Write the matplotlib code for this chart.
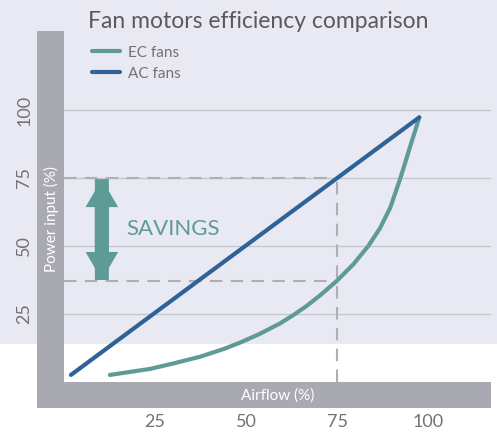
import matplotlib
matplotlib.use("Agg")
import matplotlib.pyplot as plt
from matplotlib.patches import Rectangle

plt.rcParams['font.family'] = ['Lato', 'DejaVu Sans']

# data
ec_x = [12.6, 23.6, 30, 37.4, 44, 48.4, 53.8, 59.3, 63.0, 66.7, 70.3, 74.9, 79.5, 83.6,
        86.8, 89.6, 92.3, 93.2, 95.5, 96.9, 97.6]
ec_y = [2.6, 4.8, 6.8, 9.3, 12.2, 14.5, 17.7, 21.5, 24.6, 28.0, 31.8, 37.1, 43.3, 50,
        56.5, 64, 74.5, 78.3, 88.3, 94.2, 97.3]
ac_x = [1.9, 97.6]
ac_y = [2.6, 97.3]
ticks = [25, 50, 75, 100]
ref_flow = 75
ac_power = 75
ec_power = 37

EC_COL = '#5f9b96'
AC_COL = '#2f6398'
BAR_COL = '#a9a9b2'
BG_COL = '#e9e9f3'
TXT_COL = '#727272'

W, H = 497, 432
fig = plt.figure(figsize=(W / 100, H / 100), dpi=100)
fig.patch.set_facecolor('white')

def px(x0, y0, x1, y1):
    # pixel box (top-left origin) -> figure fraction rect
    return (x0 / W, 1 - y1 / H), (x1 - x0) / W, (y1 - y0) / H

# lavender band and grey L-shaped axis bars
for box, col, z in [((0, 0, W, 344), BG_COL, 0),
                    ((37.3, 382, 491, 408.3), BAR_COL, 1),
                    ((37.3, 30.7, 64, 408.3), BAR_COL, 1)]:
    xy, w, h = px(*box)
    fig.add_artist(Rectangle(xy, w, h, transform=fig.transFigure, facecolor=col,
                             edgecolor='none', zorder=z))

ax = fig.add_axes([64 / W, 1 - 382 / H, 427 / W, 351 / H])
ax.set_facecolor('none')
ax.set_zorder(2)
ax.set_xlim(0, 427 / 3.64)
ax.set_ylim(0, 351 / 2.72)
for s in ax.spines.values():
    s.set_visible(False)

ax.set_xticks(ticks)
ax.set_yticks(ticks)
ax.set_yticklabels([str(t) for t in ticks], rotation=90, va='center')
ax.tick_params(axis='both', length=0, colors=TXT_COL, labelsize=13)
ax.tick_params(axis='y', pad=23)
ax.tick_params(axis='x', pad=23)
ax.yaxis.grid(True, color='#c6c6cd', linewidth=1)
ax.set_axisbelow(True)

dash = dict(color='#aeaeb7', linewidth=1.5, linestyle=(0, (6, 4)), zorder=2)
ax.plot([0, ref_flow], [ac_power, ac_power], **dash)
ax.plot([0, ref_flow], [ec_power, ec_power], **dash)
ax.plot([ref_flow, ref_flow], [0, ac_power], **dash)

ax.plot(ec_x, ec_y, color=EC_COL, linewidth=3, solid_capstyle='round',
        solid_joinstyle='round', label='EC fans', zorder=3)
ax.plot(ac_x, ac_y, color=AC_COL, linewidth=3, solid_capstyle='round', label='AC fans', zorder=3)

# double headed savings arrow: two full-length arrows pointing opposite ways
for start, end in ((ec_power + 0.5, ac_power - 0.4), (ac_power - 0.4, ec_power + 0.5)):
    ax.arrow(10.4, start, 0, end - start, width=3.85, head_width=8.96, head_length=10.3,
             length_includes_head=True, color=EC_COL, linewidth=0, zorder=3)
ax.text(17.0, 56.3, 'SAVINGS', color=EC_COL, fontsize=16, ha='left', va='center')

ax.set_ylabel('Power input (%)', color='white', fontsize=11, va='center')
ax.yaxis.set_label_coords(-13 / 427, (382 - 219.5) / 351)
ax.set_xlabel('Airflow (%)', color='white', fontsize=11, va='center')
ax.xaxis.set_label_coords((278 - 64) / 427, -14 / 351)

ax.legend(loc='upper left', bbox_to_anchor=(84 / W, 1 - 38 / H), bbox_transform=fig.transFigure,
          frameon=False, fontsize=11, labelcolor=TXT_COL, handlelength=1.85, handletextpad=0.5,
          borderpad=0, labelspacing=0.45)

fig.text(258.5 / W, 1 - 28 / H, 'Fan motors efficiency comparison', color='#5a5a5a',
         fontsize=16.5, ha='center', va='baseline')

fig.savefig('out.png', dpi=100)
